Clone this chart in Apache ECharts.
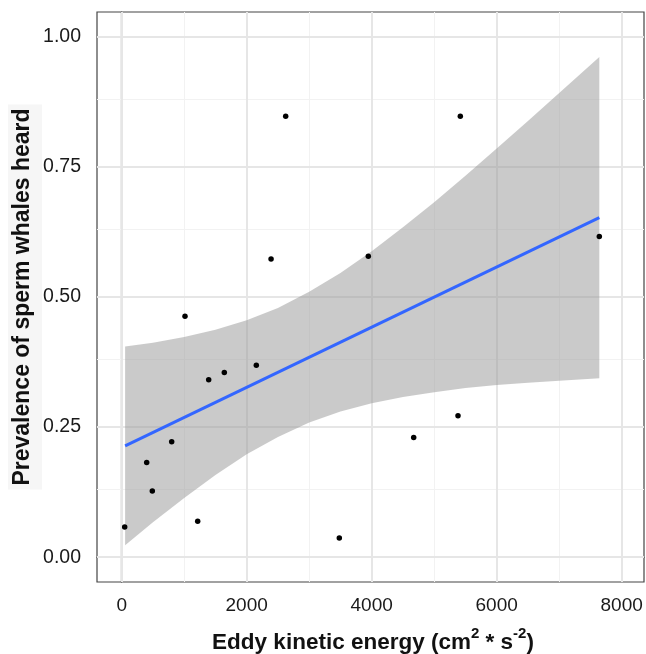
<!DOCTYPE html>
<html>
<head>
<meta charset="utf-8">
<script src="https://cdn.jsdelivr.net/npm/echarts@6/dist/echarts.min.js"></script>
<style>
html,body{margin:0;padding:0;background:#fff;}
#chart{width:646px;height:654px;}
</style>
</head>
<body>
<div id="chart"></div>
<script>
// ---- data ----
const eke = [48, 400, 490, 800, 1013, 1216, 1392, 1642, 2154, 2390, 2624, 3482, 3946, 4672, 5381, 5418, 7642];
const prevalence = [0.058, 0.182, 0.127, 0.222, 0.463, 0.069, 0.341, 0.355, 0.369, 0.573, 0.847, 0.037, 0.578, 0.230, 0.272, 0.847, 0.616];

const fitX = [55, 7642];
const fitY = [0.214, 0.6525];

const bandX = [55, 500, 1000, 1500, 2000, 2500, 3000, 3500, 4000, 4500, 5000, 5500, 6000, 6500, 7000, 7642];
const bandUpper = [0.405, 0.412, 0.423, 0.437, 0.455, 0.479, 0.510, 0.546, 0.588, 0.634, 0.682, 0.733, 0.785, 0.838, 0.892, 0.961];
const bandLower = [0.023, 0.067, 0.114, 0.158, 0.198, 0.231, 0.259, 0.280, 0.296, 0.308, 0.317, 0.325, 0.331, 0.335, 0.339, 0.344];

const xMajor = [0, 2000, 4000, 6000, 8000];
const xMinor = [1000, 3000, 5000, 7000];
const yMajor = [0, 0.25, 0.5, 0.75, 1];
const yMinor = [0.125, 0.375, 0.625, 0.875];

const FONT = 'Liberation Sans, Arial, sans-serif';

const gridLines = [];
xMinor.forEach(v => gridLines.push({xAxis: v, lineStyle: {color: '#f2f2f2', width: 1, type: 'solid'}}));
yMinor.forEach(v => gridLines.push({yAxis: v, lineStyle: {color: '#f2f2f2', width: 1, type: 'solid'}}));
xMajor.forEach(v => gridLines.push({xAxis: v, lineStyle: {color: '#e6e6e6', width: 2, type: 'solid'}}));
yMajor.forEach(v => gridLines.push({yAxis: v, lineStyle: {color: '#e6e6e6', width: 2, type: 'solid'}}));

const chart = echarts.init(document.getElementById('chart'), null, {renderer: 'canvas'});
chart.setOption({
  animation: false,
  backgroundColor: '#ffffff',
  grid: {left: 97, right: 2, top: 12, bottom: 72, outerBoundsMode: 'none', containLabel: false,
         show: true, borderColor: '#444', borderWidth: 1.2, backgroundColor: 'transparent'},
  xAxis: {
    type: 'value', min: -395, max: 8357,
    name: '{b|Eddy kinetic energy (cm}{s|2}{b| * s}{s|-2}{b|)}',
    nameLocation: 'middle', nameGap: 44, nameMoveOverlap: false,
    nameTextStyle: {
      padding: [0, 0, 0, 5],
      rich: {
        b: {fontFamily: FONT, fontWeight: 'bold', fontSize: 22.5, color: '#111', lineHeight: 28, verticalAlign: 'bottom'},
        s: {fontFamily: FONT, fontWeight: 'bold', fontSize: 15, color: '#111', lineHeight: 28, verticalAlign: 'top', padding: [0, 0, 9, 0]}
      }
    },
    axisLine: {show: true, lineStyle: {color: '#444', width: 1.2}},
    axisTick: {show: true, customValues: xMajor, length: 5, lineStyle: {color: '#333', width: 1}},
    axisLabel: {customValues: xMajor, margin: 14, fontSize: 19, color: '#1a1a1a', fontFamily: FONT, formatter: v => String(v)},
    splitLine: {show: false}
  },
  yAxis: {
    type: 'value', min: -0.0476, max: 1.0474,
    name: 'Prevalence of sperm whales heard',
    nameLocation: 'middle', nameGap: 55, nameMoveOverlap: false,
    nameTextStyle: {fontFamily: FONT, fontWeight: 'bold', fontSize: 23, color: '#111', backgroundColor: '#f6f6f6', padding: [3, 4, 8, 4]},
    axisLine: {show: true, lineStyle: {color: '#444', width: 1.2}},
    axisTick: {show: true, customValues: yMajor, length: 5, lineStyle: {color: '#333', width: 1}},
    axisLabel: {customValues: yMajor, margin: 16, fontSize: 19.5, color: '#1a1a1a', fontFamily: FONT, formatter: v => v.toFixed(2)},
    splitLine: {show: false}
  },
  series: [
    {
      type: 'line', data: [], z: 1, silent: true,
      markLine: {silent: true, z: 1, symbol: ['none', 'none'], label: {show: false}, animation: false,
                 emphasis: {disabled: true}, data: gridLines}
    },
    {
      type: 'custom', z: 2, silent: true,
      data: [[bandX[0], bandLower[0]]],
      renderItem: function (params, api) {
        const pts = [];
        for (let i = 0; i < bandX.length; i++) pts.push(api.coord([bandX[i], bandUpper[i]]));
        for (let i = bandX.length - 1; i >= 0; i--) pts.push(api.coord([bandX[i], bandLower[i]]));
        return {type: 'polygon', shape: {points: pts}, style: {fill: 'rgba(150,150,150,0.5)'}};
      }
    },
    {
      type: 'line', z: 3, silent: true, showSymbol: false,
      data: fitX.map((x, i) => [x, fitY[i]]),
      lineStyle: {color: '#3366FF', width: 3}
    },
    {
      type: 'scatter', z: 10, silent: true,
      data: eke.map((x, i) => [x, prevalence[i]]),
      symbolSize: 5.5,
      itemStyle: {color: '#000', opacity: 1}
    }
  ]
});
</script>
</body>
</html>
